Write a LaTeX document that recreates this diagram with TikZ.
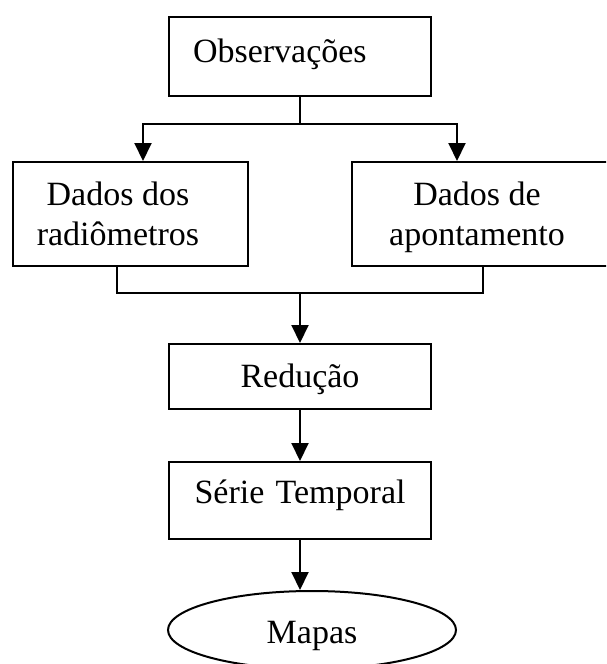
\documentclass[tikz,border=0pt]{standalone}
\usepackage{fontspec}
\setmainfont{Liberation Serif}
\usepackage{tikz}
\usetikzlibrary{arrows.meta, shapes.geometric, positioning}

\begin{document}
\begin{tikzpicture}[x=0.5pt, y=-0.5pt,
    every node/.style={font=\fontsize{17pt}{20pt}\selectfont},
    stepbox/.style={draw, line width=1pt, rectangle, inner sep=0pt},
    flow/.style={line width=1pt, -{Triangle[width=8.5pt,length=9pt]}},
    link/.style={line width=1pt}]
      \useasboundingbox (0,0) rectangle (606,664);
      \clip (0,0) rectangle (606,664);
      % boxes
      \node[stepbox, text width=107pt, inner xsep=12pt, align=left,
            text height=22.5pt, text depth=17pt] (obs) at (300,56.5) {Observações};
      \node[stepbox, minimum width=117.5pt, text height=41.5pt, text depth=10.5pt]
            (radio) at (130.5,214)
            {\begin{tabular}[b]{@{}c@{}}Dados dos\\radiômetros\end{tabular}\hspace*{12.5pt}};
      \node[stepbox, minimum width=135pt, text height=41.5pt, text depth=10.5pt]
            (apont) at (487,214)
            {\begin{tabular}[b]{@{}c@{}}Dados de\\apontamento\end{tabular}\hspace*{10pt}};
      \node[stepbox, text width=131pt, align=center,
            text height=21.5pt, text depth=11pt] (red) at (300,376.5) {Redução};
      \node[stepbox, text width=131pt, align=center,
            text height=20.5pt, text depth=18pt] (serie) at (300,500.5) {Série Temporal};
      \node[ellipse, draw, line width=1pt, inner sep=0pt, minimum width=144pt,
            minimum height=39pt, text height=13pt, text depth=0pt] (mapas) at (312,630) {Mapas};
      % connectors
      \coordinate (split) at (300,124);
      \coordinate (splitL) at (143,124);
      \coordinate (splitR) at (457,124);
      \draw[link] (obs.south) -- (split);
      \draw[flow] (split) -- (splitL) -- (radio.north -| splitL);
      \draw[flow] (split) -- (splitR) -- (apont.north -| splitR);
      \coordinate (merge) at (300,293);
      \coordinate (mergeL) at (117,293);
      \coordinate (mergeR) at (483,293);
      \draw[link] (radio.south -| mergeL) -- (mergeL) -- (mergeR) -- (apont.south -| mergeR);
      \draw[flow] (merge) -- (red.north);
      \draw[flow] (red.south) -- (serie.north);
      \draw[flow] (serie.south) -- (mapas.north -| serie.south);
\end{tikzpicture}
\end{document}
